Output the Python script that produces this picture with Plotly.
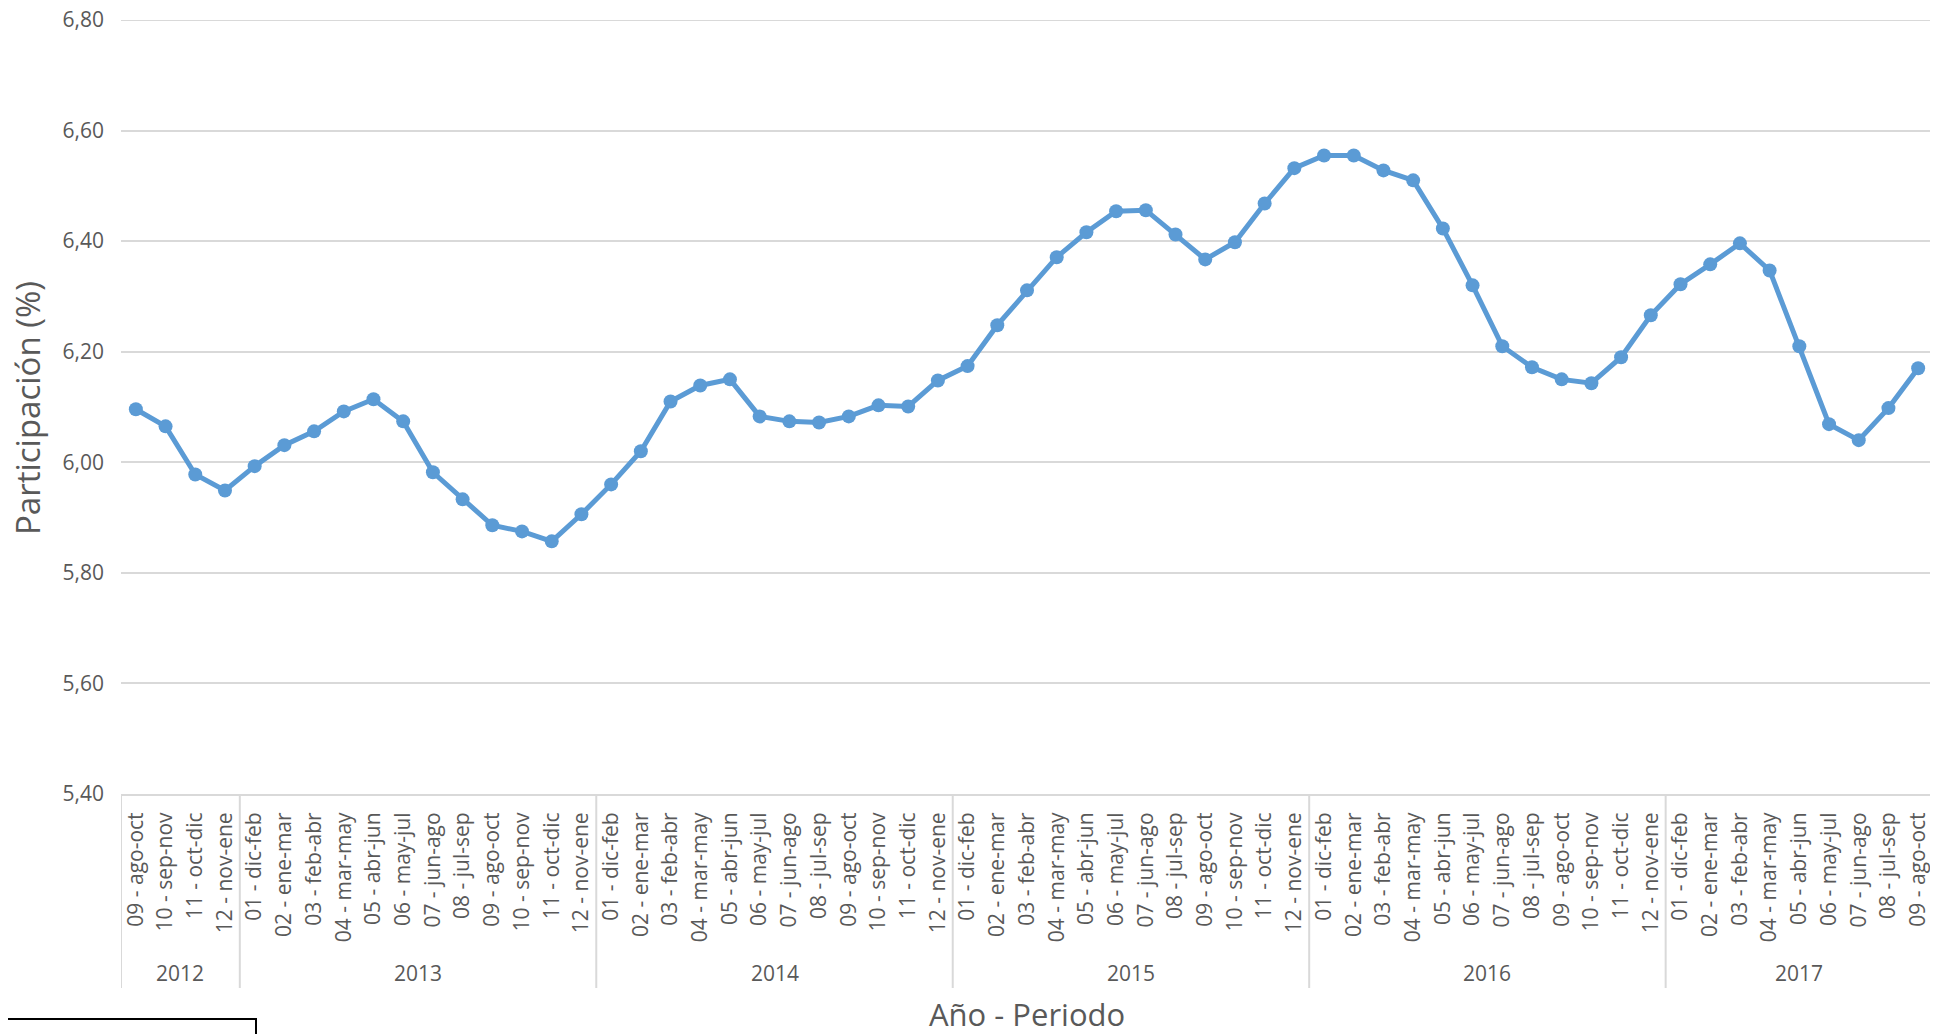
import plotly.graph_objects as go

years = (["2012"] * 4 + ["2013"] * 12 + ["2014"] * 12 + ["2015"] * 12 +
         ["2016"] * 12 + ["2017"] * 9)
full_periods = ["01 - dic-feb", "02 - ene-mar", "03 - feb-abr", "04 - mar-may",
                "05 - abr-jun", "06 - may-jul", "07 - jun-ago", "08 - jul-sep",
                "09 - ago-oct", "10 - sep-nov", "11 - oct-dic", "12 - nov-ene"]
periods = (full_periods[8:] + full_periods * 4 + full_periods[:9])

values = [6.096, 6.065, 5.978, 5.949,
          5.993, 6.031, 6.056, 6.092, 6.114, 6.074, 5.982, 5.933, 5.886, 5.875, 5.857, 5.906,
          5.960, 6.020, 6.110, 6.139, 6.150, 6.083, 6.074, 6.072, 6.083, 6.103, 6.101, 6.148,
          6.174, 6.248, 6.311, 6.371, 6.416, 6.454, 6.456, 6.412, 6.367, 6.398, 6.468, 6.532,
          6.555, 6.555, 6.528, 6.510, 6.423, 6.320, 6.210, 6.172, 6.150, 6.143, 6.190, 6.266,
          6.322, 6.358, 6.396, 6.347, 6.210, 6.069, 6.040, 6.098, 6.170]

y_ticks = [5.40, 5.60, 5.80, 6.00, 6.20, 6.40, 6.60, 6.80]

# page body has an 8px margin; work in page pixels and offset
OFF = 8
W, H = 1938 - OFF, 1034 - OFF
L, T = 121 - OFF, 20 - OFF
AXIS = 794 - OFF
RIGHT = 1933 - OFF
R = W - RIGHT
B = H - AXIS
pw = W - L - R
ph = H - T - B


def py(pix):
    """page pixel row -> paper y"""
    return (AXIS - (pix - OFF)) / ph


def px(pix):
    """page pixel column -> paper x"""
    return ((pix - OFF) - L) / pw


idx = list(range(len(values)))
font_family = "Open Sans"
tick_color = "#595959"
grid_color = "#d9d9d9"

fig = go.Figure()
fig.add_trace(go.Scatter(
    x=idx, y=values, mode="lines+markers",
    line=dict(color="#5B9BD5", width=5),
    marker=dict(color="#5B9BD5", size=14),
    showlegend=False,
))

fig.update_layout(
    width=W, height=H,
    margin=dict(l=L, r=R, t=T, b=B, autoexpand=False),
    paper_bgcolor="white", plot_bgcolor="white",
    separators=",.",
    font=dict(family=font_family, color=tick_color),
    xaxis=dict(
        range=[-0.5, len(values) - 0.5],
        tickmode="array", tickvals=idx, ticktext=periods,
        tickangle=-90,
        tickfont=dict(size=21, color=tick_color),
        showline=True, linecolor=grid_color, linewidth=2,
        showgrid=False, ticks="", zeroline=False,
        ticklabelstandoff=8,
        automargin=False,
    ),
    yaxis=dict(
        range=[y_ticks[0], y_ticks[-1]], tickvals=y_ticks, tickformat=".2f",
        tickfont=dict(size=21, color=tick_color),
        showgrid=True, gridcolor=grid_color, gridwidth=1.8,
        zeroline=False, showline=False, ticks="",
        ticklabelstandoff=16, ticklabeloverflow="allow",
        automargin=False,
    ),
)

# top gridline (plotly culls gridlines on the plot edge)
fig.add_shape(type="line", xref="paper", yref="y", x0=0, x1=1,
              y0=y_ticks[-1], y1=y_ticks[-1],
              line=dict(color=grid_color, width=1.8), layer="below")

# year group labels and dividers
groups = []
for i, yv in enumerate(years):
    if not groups or groups[-1][0] != yv:
        groups.append([yv, i, i])
    else:
        groups[-1][2] = i

bounds = [g[1] - 0.5 for g in groups] + [groups[-1][2] + 0.5]
for b in bounds:
    fig.add_shape(type="line", xref="x", yref="paper",
                  x0=b, x1=b, y0=0, y1=py(988),
                  line=dict(color=grid_color, width=2), layer="below")

for yv, a, b in groups:
    fig.add_annotation(x=(a + b) / 2, y=py(973), xref="x", yref="paper",
                       text=yv, showarrow=False, yanchor="middle",
                       font=dict(size=21, color=tick_color))

fig.add_annotation(x=0.5, y=py(1014), xref="paper", yref="paper",
                   text="Año - Periodo", showarrow=False, yanchor="middle",
                   font=dict(size=31, color=tick_color))
fig.add_annotation(x=px(28), y=py(408), xref="paper", yref="paper",
                   text="Participación (%)", showarrow=False, textangle=-90,
                   xanchor="center", yanchor="middle",
                   font=dict(size=33, color=tick_color))

fig.add_shape(type="rect", xref="paper", yref="paper",
              x0=px(1), x1=px(256), y0=py(1019), y1=py(1045),
              line=dict(color="black", width=2), fillcolor="rgba(0,0,0,0)",
              layer="above")

fig.write_html("out.html")
